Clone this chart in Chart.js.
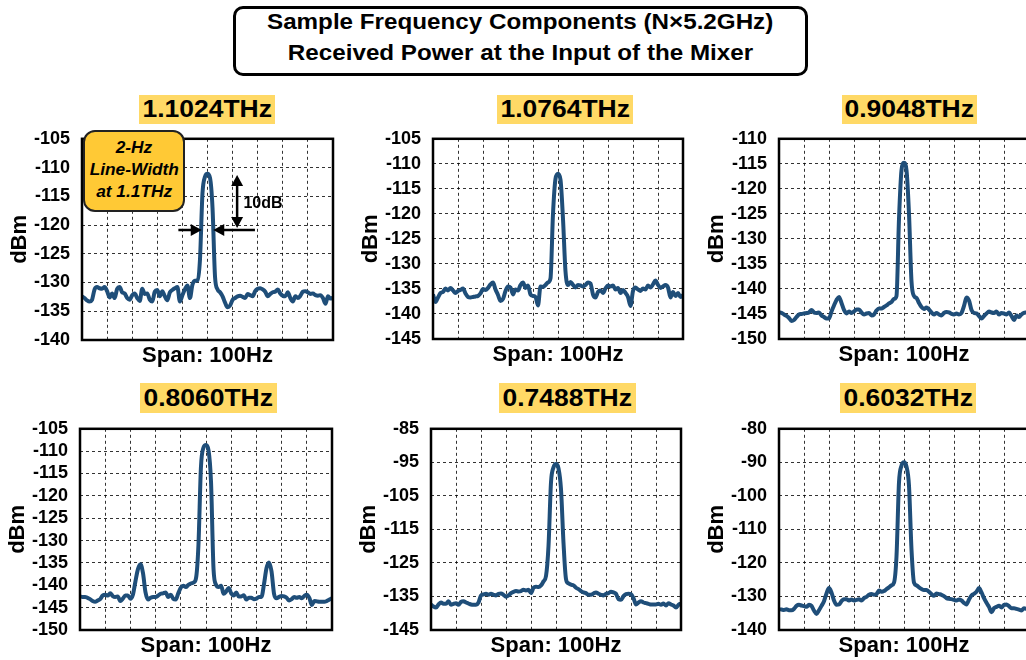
<!DOCTYPE html>
<html>
<head>
<meta charset="utf-8">
<script src="https://cdn.jsdelivr.net/npm/chart.js@4.4.1/dist/chart.umd.min.js"></script>
<style>
  body { margin: 0; width: 1026px; height: 660px; overflow: hidden; background: #fff; position: relative;
         font-family: Arial, "Liberation Sans", sans-serif; color: #000; }
  canvas { position: absolute; }
  .headbox { position: absolute; left: 233px; top: 6px; width: 575px; height: 70px; box-sizing: border-box;
             border: 3px solid #000; border-radius: 10px; }
  .headtxt { position: absolute; left: 233px; width: 575px; text-align: center; font-weight: bold;
             font-size: 22px; line-height: 31px; }
  .headtxt span, .tag span, .note span { display: inline-block; transform: scaleX(1.1); }
  .tag { position: absolute; background: #FFD966; display: flex; align-items: center; justify-content: center;
         font-weight: bold; font-size: 23px; white-space: nowrap; }
  .tag span { transform: scaleX(1.15); }
  .note { position: absolute; left: 83px; top: 130px; width: 102px; height: 82px; box-sizing: border-box;
          border: 2px solid #222; border-radius: 12px; background: #FFC935; text-align: center;
          font-weight: bold; font-style: italic; font-size: 16px; line-height: 22px; padding-top: 5px; z-index: 2; }
  .note span { transform: scaleX(1.08); }
</style>
</head>
<body>
<div class="headbox"></div>
<div class="headtxt" style="top:6px"><span>Sample Frequency Components (N×5.2GHz)</span><br><span>Received Power at the Input of the Mixer</span></div>
<div class="note"><span>2-Hz</span><br><span>Line-Width</span><br><span>at 1.1THz</span></div>

<script>
// one point per Hz across the 100 Hz span
const spanHz = Array.from({length: 101}, (_, i) => i);

// received power (dBm)
const dbm11024 = [
  -132.4,-132.7,-133.1,-133.3,-133.0,-131.2,-130.8,-131.0,-131.1,-130.8,
  -131.5,-132.6,-131.9,-132.7,-131.1,-130.8,-131.7,-131.9,-132.7,-133.0,
  -132.2,-131.9,-132.7,-133.2,-131.1,-132.0,-131.9,-133.0,-133.3,-131.6,
  -131.3,-132.4,-131.5,-132.4,-133.1,-131.7,-131.3,-131.0,-130.8,-133.3,
  -132.2,-131.2,-130.5,-132.7,-130.4,-129.7,-129.6,-126.0,-114.5,-111.6,
  -111.1,-111.8,-117.0,-129.0,-131.2,-131.7,-132.4,-133.5,-134.3,-134.0,
  -133.0,-132.7,-132.4,-132.3,-132.5,-132.7,-132.0,-132.2,-132.4,-131.5,
  -131.1,-131.0,-131.2,-131.6,-132.4,-132.0,-131.7,-131.6,-131.2,-131.9,
  -132.3,-132.4,-131.7,-132.7,-133.3,-132.4,-132.7,-132.3,-131.6,-131.5,
  -131.7,-132.0,-131.9,-132.2,-132.3,-132.2,-132.7,-133.7,-132.4,-132.8,
  -132.6
];
const dbm10764 = [
  -136.1,-137.6,-136.7,-135.8,-135.6,-134.9,-135.3,-134.8,-135.3,-135.8,
  -135.4,-135.2,-134.9,-135.9,-136.6,-136.7,-136.6,-136.5,-136.4,-135.9,
  -135.0,-135.2,-134.8,-134.1,-133.7,-135.1,-136.2,-137.4,-137.0,-135.4,
  -134.5,-134.7,-136.1,-135.1,-135.3,-134.2,-133.7,-134.8,-134.3,-136.1,
  -136.4,-136.6,-138.3,-134.5,-134.6,-134.2,-133.7,-132.9,-120.0,-113.0,
  -112.0,-113.2,-121.0,-131.5,-134.2,-133.6,-134.2,-134.7,-134.2,-134.3,
  -134.5,-134.2,-133.7,-133.9,-136.1,-136.7,-135.6,-135.3,-135.8,-134.9,
  -134.3,-134.5,-134.3,-135.1,-134.8,-135.8,-135.2,-135.8,-136.6,-138.4,
  -135.4,-134.7,-135.1,-135.4,-134.9,-135.1,-134.3,-134.7,-134.1,-133.3,
  -134.2,-134.8,-134.5,-134.2,-134.7,-136.7,-135.6,-136.4,-135.8,-136.6,
  -136.2
];
const dbm09048 = [
  -144.7,-144.8,-145.1,-145.4,-145.8,-146.4,-146.2,-145.6,-145.1,-145.0,
  -144.9,-144.8,-144.7,-144.2,-144.7,-144.8,-144.7,-145.3,-145.6,-145.9,
  -145.9,-144.5,-143.3,-142.2,-141.6,-142.8,-144.2,-144.9,-144.5,-144.8,
  -144.5,-144.1,-144.1,-144.7,-145.1,-144.9,-144.8,-145.3,-145.1,-144.3,
  -143.9,-143.9,-143.6,-143.3,-142.9,-142.6,-142.0,-141.4,-126.0,-116.3,
  -114.8,-116.3,-125.0,-138.5,-141.4,-141.8,-142.8,-143.6,-144.0,-143.7,
  -144.1,-144.7,-145.1,-144.8,-145.1,-145.3,-144.8,-144.6,-144.7,-145.0,
  -145.1,-144.9,-145.1,-144.8,-143.4,-141.7,-142.3,-144.2,-144.8,-144.9,
  -145.4,-145.9,-145.4,-144.9,-144.5,-144.7,-144.8,-144.5,-145.1,-144.8,
  -144.9,-145.1,-144.7,-145.4,-146.2,-145.3,-145.6,-145.1,-144.8,-144.7,
  -144.6
];
const dbm08060 = [
  -142.5,-142.6,-142.6,-142.8,-143.1,-143.5,-143.7,-143.4,-143.1,-142.3,
  -142.1,-142.3,-141.8,-142.4,-142.6,-142.5,-143.5,-143.0,-142.3,-142.3,
  -143.0,-142.1,-139.1,-136.4,-135.3,-137.3,-141.6,-143.2,-142.8,-142.6,
  -142.6,-142.3,-141.9,-141.8,-141.6,-142.6,-142.1,-143.0,-143.2,-141.8,
  -140.5,-140.1,-140.4,-139.9,-139.6,-139.4,-138.5,-131.0,-113.5,-109.2,
  -108.6,-109.8,-117.0,-136.5,-139.9,-140.4,-140.1,-141.9,-141.4,-140.6,
  -141.8,-142.3,-141.6,-142.5,-142.5,-142.2,-143.2,-142.8,-142.8,-143.1,
  -143.0,-142.6,-142.6,-139.8,-136.2,-134.9,-136.9,-141.9,-142.9,-142.6,
  -142.4,-142.5,-142.8,-143.4,-143.1,-142.6,-142.8,-142.6,-142.9,-142.4,
  -142.1,-142.8,-144.4,-143.5,-143.6,-143.7,-143.7,-143.7,-143.5,-143.2,
  -142.9
];
const dbm07488 = [
  -137.4,-138.0,-138.3,-137.4,-136.8,-137.2,-137.2,-136.4,-137.5,-137.2,
  -137.0,-137.5,-136.6,-136.4,-136.8,-137.1,-137.4,-137.5,-137.5,-136.8,
  -134.7,-134.4,-134.2,-134.5,-134.2,-134.5,-134.7,-134.2,-134.1,-134.5,
  -135.1,-134.7,-134.0,-133.6,-133.4,-133.5,-133.4,-133.0,-133.2,-133.0,
  -134.0,-132.4,-132.1,-132.2,-131.7,-130.5,-128.9,-120.0,-101.0,-96.5,
  -95.5,-96.8,-103.0,-119.0,-129.8,-131.1,-131.5,-131.7,-132.4,-132.8,
  -133.4,-133.8,-134.0,-134.5,-134.5,-134.1,-133.8,-134.2,-134.5,-134.7,
  -134.2,-134.0,-133.6,-133.8,-134.2,-135.8,-136.0,-134.9,-134.3,-134.2,
  -134.3,-135.5,-137.4,-136.8,-136.4,-136.8,-137.0,-137.2,-137.4,-137.4,
  -137.4,-137.2,-137.5,-137.1,-137.7,-137.0,-137.4,-137.7,-138.3,-137.5,
  -137.1
];
const dbm06032 = [
  -133.8,-133.9,-134.0,-133.8,-134.1,-134.1,-133.7,-132.8,-132.5,-132.7,
  -132.9,-133.1,-132.5,-132.8,-134.2,-135.2,-134.1,-132.8,-131.4,-129.1,
  -127.5,-128.8,-131.2,-132.5,-132.4,-131.4,-130.8,-130.8,-131.2,-130.9,
  -131.2,-131.0,-130.8,-131.2,-130.5,-130.1,-129.5,-129.3,-129.5,-129.3,
  -128.2,-128.6,-128.4,-127.8,-127.3,-126.7,-125.9,-118.0,-96.0,-91.0,
  -90.0,-91.3,-97.0,-116.0,-125.9,-126.7,-127.3,-127.8,-128.1,-128.1,
  -128.6,-129.3,-129.8,-129.1,-129.3,-129.5,-129.9,-130.5,-130.7,-130.8,
  -131.0,-131.2,-130.9,-131.2,-131.9,-132.4,-130.9,-129.7,-129.2,-128.6,
  -127.5,-128.8,-130.5,-131.9,-133.1,-134.7,-133.5,-133.1,-132.8,-133.3,
  -132.5,-132.4,-132.9,-133.5,-133.5,-133.7,-133.9,-134.2,-133.5,-133.7,
  -133.9
];

const panelTitles = ['1.1024THz', '1.0764THz', '0.9048THz', '0.8060THz', '0.7488THz', '0.6032THz'];
const yMins  = [-140, -145, -150, -150, -145, -140];
const yMaxs  = [-105, -105, -110, -105, -85, -80];
const ySteps = [5, 5, 5, 5, 10, 10];
const traces = [dbm11024, dbm10764, dbm09048, dbm08060, dbm07488, dbm06032];

// line-width marker on the 1.1024THz panel (Hz, dBm)
const markTopDb = -111.3, markLowDb = -120.5, markHz = 61.8;
const leftArrowHz = [38.4, 47.7], rightArrowHz = [68.9, 52.3];
const markText = '10dB', markTextHz = 64.3, markTextDb = -116.3;

// plot areas in page pixels
const plotRects = [
  {l: 82,  t: 128, w: 251, h: 212},
  {l: 433, t: 128, w: 250, h: 211},
  {l: 779, t: 128, w: 250, h: 211},
  {l: 80,  t: 418, w: 252, h: 212},
  {l: 431, t: 418, w: 250, h: 212},
  {l: 779, t: 418, w: 250, h: 212}
];
const tagRects = [
  {l: 139, t: 95,  w: 136, h: 29},
  {l: 497, t: 95,  w: 136, h: 29},
  {l: 842, t: 95,  w: 135, h: 29},
  {l: 140, t: 383, w: 137, h: 30},
  {l: 499, t: 383, w: 137, h: 30},
  {l: 840, t: 383, w: 136, h: 30}
];

const AXW = 80, PADT = 12, PADR = 12, XAH = 33;
const FONT = 'Arial, "Liberation Sans", sans-serif';
Chart.defaults.font.family = FONT;
Chart.defaults.color = '#000';

// black box round the plot area
const frame = {
  id: 'frame',
  afterDatasetsDraw(chart) {
    const {ctx, chartArea: a} = chart;
    ctx.save();
    ctx.strokeStyle = '#000';
    ctx.lineWidth = 2.5;
    ctx.strokeRect(a.left, a.top, a.right - a.left, a.bottom - a.top);
    ctx.restore();
  }
};

function head(ctx, x, y, dx, dy) {
  const s = 11, w = 6;
  ctx.beginPath();
  ctx.moveTo(x, y);
  ctx.lineTo(x - dx * s - dy * w, y - dy * s + dx * w);
  ctx.lineTo(x - dx * s + dy * w, y - dy * s - dx * w);
  ctx.closePath();
  ctx.fill();
}

// arrows for the 2-Hz line-width note
const widthMarks = {
  id: 'widthMarks',
  afterDraw(chart) {
    const {ctx, scales: {x, y}} = chart;
    const xm = x.getPixelForValue(markHz);
    const yt = y.getPixelForValue(markTopDb), yb = y.getPixelForValue(markLowDb);
    ctx.save();
    ctx.strokeStyle = '#000';
    ctx.fillStyle = '#000';
    ctx.lineWidth = 2.5;
    ctx.beginPath();
    ctx.moveTo(xm, yt + 8); ctx.lineTo(xm, yb - 8);
    ctx.stroke();
    head(ctx, xm, yt, 0, -1);
    head(ctx, xm, yb, 0, 1);
    const ya = y.getPixelForValue(markLowDb) + 2;
    const l0 = x.getPixelForValue(leftArrowHz[0]), l1 = x.getPixelForValue(leftArrowHz[1]);
    const r0 = x.getPixelForValue(rightArrowHz[0]), r1 = x.getPixelForValue(rightArrowHz[1]);
    ctx.beginPath();
    ctx.moveTo(l0, ya); ctx.lineTo(l1 - 8, ya);
    ctx.moveTo(r0, ya); ctx.lineTo(r1 + 8, ya);
    ctx.stroke();
    head(ctx, l1, ya, 1, 0);
    head(ctx, r1, ya, -1, 0);
    ctx.font = 'bold 16px ' + FONT;
    ctx.textBaseline = 'middle';
    ctx.fillText(markText, x.getPixelForValue(markTextHz), y.getPixelForValue(markTextDb));
    ctx.restore();
  }
};

panelTitles.forEach((title, i) => {
  const tr = tagRects[i];
  const tag = document.createElement('div');
  tag.className = 'tag';
  tag.style.cssText = `left:${tr.l}px;top:${tr.t}px;width:${tr.w}px;height:${tr.h}px`;
  tag.innerHTML = `<span>${title}</span>`;
  document.body.appendChild(tag);

  const r = plotRects[i];
  const cv = document.createElement('canvas');
  cv.width = AXW + r.w + PADR;
  cv.height = PADT + r.h + XAH;
  cv.style.left = (r.l - AXW) + 'px';
  cv.style.top = (r.t - PADT) + 'px';
  document.body.appendChild(cv);

  new Chart(cv, {
    type: 'line',
    data: {
      datasets: [{
        data: spanHz.map((hz, k) => ({x: hz, y: traces[i][k]})),
        borderColor: '#1F4E79',
        borderWidth: 4,
        pointRadius: 0,
        cubicInterpolationMode: 'monotone',
        fill: false
      }]
    },
    options: {
      responsive: false,
      animation: false,
      devicePixelRatio: 1,
      layout: {padding: {top: PADT, right: PADR, left: 0, bottom: 0}},
      plugins: {legend: {display: false}, tooltip: {enabled: false}},
      scales: {
        x: {
          type: 'linear', min: 0, max: 100,
          ticks: {display: false, stepSize: 10},
          grid: {color: 'rgba(0,0,0,0.8)', lineWidth: 1, drawTicks: false},
          border: {display: false, dash: [3, 3]},
          title: {display: true, text: 'Span: 100Hz', font: {size: 22, weight: 'bold'}, padding: {top: 0, bottom: 4}},
          afterFit: s => { s.height = XAH; }
        },
        y: {
          min: yMins[i], max: yMaxs[i],
          ticks: {stepSize: ySteps[i], padding: 12, font: {size: 18, weight: 'bold'}, autoSkip: false},
          grid: {color: 'rgba(0,0,0,0.8)', lineWidth: 1, drawTicks: false},
          border: {display: false, dash: [3, 3]},
          title: {display: true, text: 'dBm', font: {size: 22, weight: 'bold'}, padding: {top: 5, bottom: 0}},
          afterFit: s => { s.width = AXW; }
        }
      }
    },
    plugins: i === 0 ? [frame, widthMarks] : [frame]
  });
});
</script>
</body>
</html>
